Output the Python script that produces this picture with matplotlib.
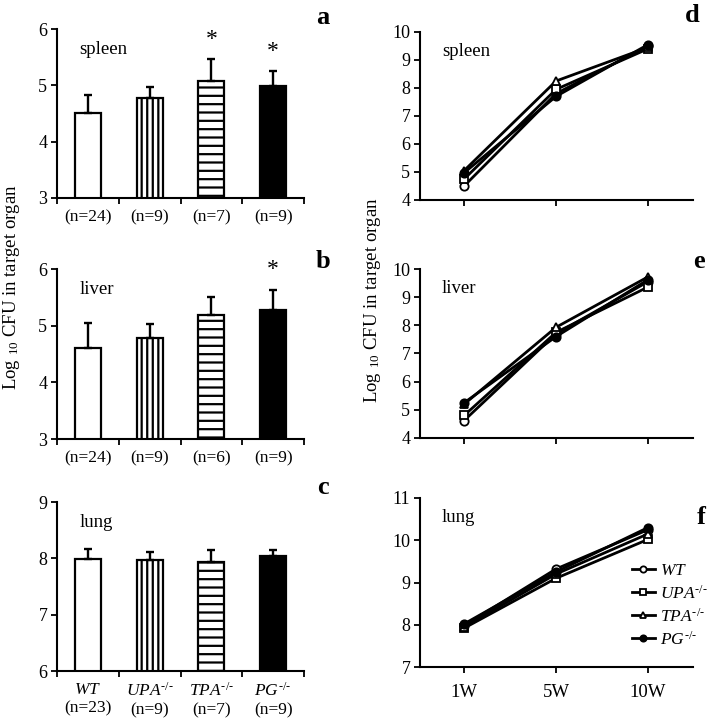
import matplotlib
matplotlib.use("Agg")
import matplotlib.pyplot as plt
import numpy as np

plt.rcParams['font.family'] = ['Liberation Serif', 'DejaVu Serif']
plt.rcParams['mathtext.fontset'] = 'custom'
plt.rcParams['mathtext.rm'] = 'Liberation Serif'
plt.rcParams['mathtext.it'] = 'Liberation Serif:italic'
plt.rcParams['mathtext.bf'] = 'Liberation Serif:bold'
plt.rcParams['hatch.linewidth'] = 1.6

# ---------------- data ----------------
groups = ["WT", "UPA", "TPA", "PG"]
group_labels = [r"$\mathit{WT}$", r"$\mathit{UPA}^{\text{-/-}}$",
                r"$\mathit{TPA}^{\text{-/-}}$", r"$\mathit{PG}^{\text{-/-}}$"]

spleen_mean = [4.51, 4.77, 5.07, 4.98]
spleen_err = [0.32, 0.20, 0.39, 0.27]
spleen_n = [24, 9, 7, 9]
spleen_sig = [False, False, True, True]

liver_mean = [4.61, 4.78, 5.19, 5.27]
liver_err = [0.44, 0.25, 0.32, 0.36]
liver_n = [24, 9, 6, 9]
liver_sig = [False, False, False, True]

lung_mean = [7.98, 7.97, 7.93, 8.04]
lung_err = [0.19, 0.14, 0.21, 0.10]
lung_n = [23, 9, 7, 9]
lung_sig = [False, False, False, False]

weeks = ["1W", "5W", "10W"]
spleen_time = {"WT": [4.50, 7.80, 9.50], "UPA": [4.75, 7.95, 9.40],
               "TPA": [5.05, 8.25, 9.45], "PG": [4.97, 7.70, 9.55]}
liver_time = {"WT": [4.62, 7.70, 9.55], "UPA": [4.80, 7.75, 9.36],
              "TPA": [5.20, 7.93, 9.72], "PG": [5.25, 7.60, 9.62]}
lung_time = {"WT": [7.98, 9.32, 10.25], "UPA": [7.92, 9.10, 10.02],
             "TPA": [7.95, 9.20, 10.15], "PG": [8.02, 9.25, 10.30]}

# ---------------- style ----------------
W, H = 708, 720
fig = plt.figure(figsize=(W / 100, H / 100), dpi=100)

def ax_at(x0, x1, ytop, ybot):
    return fig.add_axes([x0 / W, 1 - ybot / H, (x1 - x0) / W, (ybot - ytop) / H])

FS = 13
bar_styles = [dict(facecolor="white", hatch=None),
              dict(facecolor="white", hatch="|||"),
              dict(facecolor="white", hatch="--"),
              dict(facecolor="black", hatch=None)]

line_styles = {"WT": dict(marker="o", mfc="white"),
               "UPA": dict(marker="s", mfc="white"),
               "TPA": dict(marker="^", mfc="white"),
               "PG": dict(marker="o", mfc="black")}

def style_axes(ax):
    for s in ["top", "right"]:
        ax.spines[s].set_visible(False)
    for s in ["left", "bottom"]:
        ax.spines[s].set_linewidth(1.5)
    ax.tick_params(axis="y", direction="out", length=4, width=1.3, labelsize=FS, pad=3)

def bar_panel(ax, means, errs, ns, sigs, ylim, organ, bottom_labels=False):
    style_axes(ax)
    x = np.arange(len(means))
    for i in x:
        st = bar_styles[i]
        ax.bar(x[i], means[i], width=0.42, bottom=0, color=st["facecolor"],
               edgecolor="black", linewidth=1.6, hatch=st["hatch"], zorder=2)
        ax.errorbar(x[i], means[i], yerr=[[0], [errs[i]]], color="black",
                    capsize=2.8, capthick=1.7, elinewidth=1.7, zorder=3)
        if sigs[i]:
            ax.annotate("*", (x[i], means[i] + errs[i]), xytext=(0, 7),
                        textcoords="offset points", ha="center", va="bottom",
                        fontsize=17)
    ax.set_ylim(*ylim)
    ax.set_yticks(np.arange(ylim[0], ylim[1] + 1, 1))
    ax.set_xlim(-0.5, len(means) - 0.5)
    ax.set_xticks(x)
    if bottom_labels:
        labs = [f"{g}\n(n={n})" for g, n in zip(group_labels, ns)]
    else:
        labs = [f"(n={n})" for n in ns]
    ax.set_xticklabels(labs, fontsize=FS - 0.5, linespacing=1.2)
    ax.tick_params(axis="x", which="major", length=0, pad=8)
    ax.set_xticks(np.arange(-0.5, len(means), 1), minor=True)
    ax.tick_params(axis="x", which="minor", direction="out", length=4, width=1.3)
    ax.text(0.09, 0.88, organ, transform=ax.transAxes, fontsize=FS + 0.5, ha="left", va="center")
    return ax

def line_panel(ax, data, ylim, organ, show_x=False):
    style_axes(ax)
    x = np.arange(len(weeks))
    for g, lab in zip(groups, group_labels):
        st = line_styles[g]
        ax.plot(x, data[g], color="black", lw=2.0, marker=st["marker"], mfc=st["mfc"],
                mec="black", mew=1.3, ms=6, label=lab, zorder=3)
    ax.set_ylim(*ylim)
    ax.set_yticks(np.arange(ylim[0], ylim[1] + 1, 1))
    ax.set_xlim(-0.48, 2.49)
    ax.set_xticks(x)
    if show_x:
        ax.set_xticklabels(weeks, fontsize=FS + 0.5)
    else:
        ax.set_xticklabels([])
    ax.tick_params(axis="x", direction="out", length=4, width=1.3, pad=8)
    ax.text(0.08, 0.885, organ, transform=ax.transAxes, fontsize=FS + 0.5, ha="left", va="center")
    return ax

ax_a = bar_panel(ax_at(57, 304, 29, 198), spleen_mean, spleen_err, spleen_n, spleen_sig, (3, 6), "spleen")
ax_b = bar_panel(ax_at(57, 304, 269, 439), liver_mean, liver_err, liver_n, liver_sig, (3, 6), "liver")
ax_c = bar_panel(ax_at(57, 304, 502, 671), lung_mean, lung_err, lung_n, lung_sig, (6, 9), "lung", bottom_labels=True)

ax_d = line_panel(ax_at(420, 693, 32, 200), spleen_time, (4, 10), "spleen")
ax_e = line_panel(ax_at(420, 693, 269, 438), liver_time, (4, 10), "liver")
ax_f = line_panel(ax_at(420, 693, 498, 667), lung_time, (7, 11), "lung", show_x=True)

leg = ax_f.legend(loc="upper left", bbox_to_anchor=(0.775, 0.615), frameon=False,
                  fontsize=FS - 0.5, handlelength=1.35, handletextpad=0.3, labelspacing=0.3,
                  borderpad=0, borderaxespad=0, markerscale=0.75)

# panel letters
for lx, ly, t in [(323, 18, "a"), (323, 262, "b"), (323, 487, "c"),
                  (692, 15, "d"), (699, 261, "e"), (701, 518, "f")]:
    fig.text(lx / W, 1 - ly / H, t, fontsize=19, fontweight="bold", ha="center", va="center")

ylab = r"Log $_{10}$ CFU in target organ"
fig.text(12 / W, 1 - 287 / H, ylab, rotation=90, fontsize=FS + 0.5, ha="center", va="center")
fig.text(372 / W, 1 - 300 / H, ylab, rotation=90, fontsize=FS + 0.5, ha="center", va="center")

fig.savefig("out.png", dpi=100)
